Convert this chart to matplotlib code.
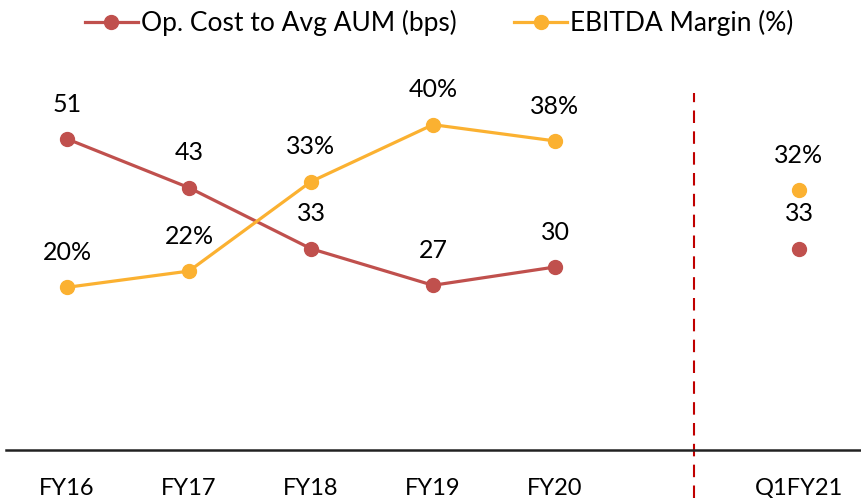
import matplotlib
matplotlib.use('Agg')
import matplotlib.pyplot as plt
import numpy as np

categories = ['FY16', 'FY17', 'FY18', 'FY19', 'FY20', '', 'Q1FY21']
op_cost = [51, 43, 33, 27, 30]
op_cost_q1 = 33
ebitda = [20, 22, 33, 40, 38]
ebitda_q1 = 32

RED = '#C0504D'
YELLOW = '#FBB131'
plt.rcParams['font.family'] = ['Lato', 'DejaVu Sans']

fig = plt.figure(figsize=(8.61, 4.98), dpi=100)
ax = fig.add_axes([6 / 861, 48 / 498, 854 / 861, 366 / 498])
ax2 = ax.twinx()

x = np.arange(len(categories))
xa = x[:len(op_cost)]
xq = x[-1]

l1, = ax.plot(xa, op_cost, color=RED, lw=2.3, marker='o', ms=10, label='Op. Cost to Avg AUM (bps)')
ax.plot([xq], [op_cost_q1], color=RED, marker='o', ms=10, ls='none')
l2, = ax2.plot(xa, ebitda, color=YELLOW, lw=2.3, marker='o', ms=10, label='EBITDA Margin (%)')
ax2.plot([xq], [ebitda_q1], color=YELLOW, marker='o', ms=10, ls='none')

for xi, v in zip(list(xa) + [xq], op_cost + [op_cost_q1]):
    ax.annotate(f'{v}', (xi, v), xytext=(0, 25), textcoords='offset points',
                ha='center', va='center', fontsize=18, color='black')
for xi, v in zip(list(xa) + [xq], ebitda + [ebitda_q1]):
    ax2.annotate(f'{v}%', (xi, v), xytext=(0, 25), textcoords='offset points',
                 ha='center', va='center', fontsize=18, color='black')

ax.set_ylim(0, 60)
ax2.set_ylim(0, 45)
ax.set_xlim(-0.5, len(categories) - 0.5)
ax.set_xticks(x)
ax.set_xticklabels(categories, fontsize=17)
ax.tick_params(axis='x', length=0, pad=20)
ax.set_yticks([])
ax2.set_yticks([])
for a in (ax, ax2):
    for s in ('top', 'left', 'right'):
        a.spines[s].set_visible(False)
ax.spines['bottom'].set_linewidth(1.8)
ax.spines['bottom'].set_color('#222222')
ax2.spines['bottom'].set_visible(False)

ax.axvline(5.14, ymin=-0.131, ymax=0.975, color='#C00000', lw=1.5,
           ls=(0, (6, 4)), clip_on=False)

fig.legend(handles=[l1, l2], loc='center', bbox_to_anchor=(0.51, 0.953), ncol=2,
           frameon=False, fontsize=19, handlelength=2.0, handletextpad=0.1,
           columnspacing=2.2)

fig.savefig('out.png', dpi=100)
